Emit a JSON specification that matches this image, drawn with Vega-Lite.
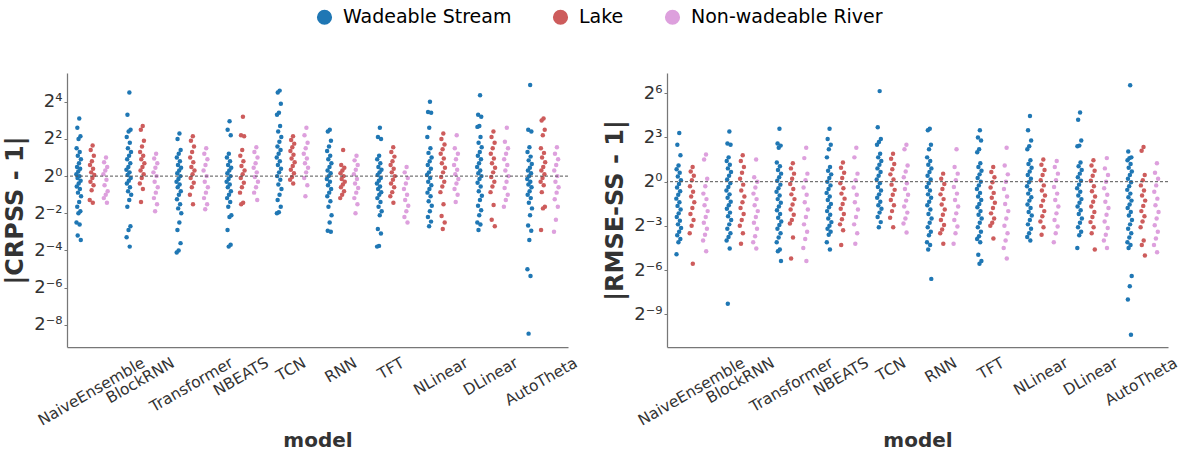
{
"$schema": "https://vega.github.io/schema/vega-lite/v6.json",
"background": "white",
"padding": {"left": 3, "top": 7, "right": 4, "bottom": 4},
"datasets": {
"crpss": [
{"m":"NaiveEnsemble","t":"W","v":8.57},{"m":"NaiveEnsemble","t":"W","v":6.06},{"m":"NaiveEnsemble","t":"W","v":4.44},{"m":"NaiveEnsemble","t":"W","v":4},{"m":"NaiveEnsemble","t":"W","v":2.83},{"m":"NaiveEnsemble","t":"W","v":2.46},{"m":"NaiveEnsemble","t":"W","v":2.14},{"m":"NaiveEnsemble","t":"W","v":1.87},{"m":"NaiveEnsemble","t":"W","v":1.62},{"m":"NaiveEnsemble","t":"W","v":1.41},{"m":"NaiveEnsemble","t":"W","v":1.32},{"m":"NaiveEnsemble","t":"W","v":1.19},{"m":"NaiveEnsemble","t":"W","v":1.07},{"m":"NaiveEnsemble","t":"W","v":1},{"m":"NaiveEnsemble","t":"W","v":0.93},{"m":"NaiveEnsemble","t":"W","v":0.84},{"m":"NaiveEnsemble","t":"W","v":0.76},{"m":"NaiveEnsemble","t":"W","v":0.68},{"m":"NaiveEnsemble","t":"W","v":0.62},{"m":"NaiveEnsemble","t":"W","v":0.54},{"m":"NaiveEnsemble","t":"W","v":0.47},{"m":"NaiveEnsemble","t":"W","v":0.38},{"m":"NaiveEnsemble","t":"W","v":0.32},{"m":"NaiveEnsemble","t":"W","v":0.27},{"m":"NaiveEnsemble","t":"W","v":0.25},{"m":"NaiveEnsemble","t":"W","v":0.177},{"m":"NaiveEnsemble","t":"W","v":0.165},{"m":"NaiveEnsemble","t":"W","v":0.109},{"m":"NaiveEnsemble","t":"W","v":0.092},
{"m":"NaiveEnsemble","t":"L","v":3.14},{"m":"NaiveEnsemble","t":"L","v":2.64},{"m":"NaiveEnsemble","t":"L","v":2.14},{"m":"NaiveEnsemble","t":"L","v":1.74},{"m":"NaiveEnsemble","t":"L","v":1.52},{"m":"NaiveEnsemble","t":"L","v":1.32},{"m":"NaiveEnsemble","t":"L","v":1.15},{"m":"NaiveEnsemble","t":"L","v":1.04},{"m":"NaiveEnsemble","t":"L","v":0.93},{"m":"NaiveEnsemble","t":"L","v":0.81},{"m":"NaiveEnsemble","t":"L","v":0.71},{"m":"NaiveEnsemble","t":"L","v":0.59},{"m":"NaiveEnsemble","t":"L","v":0.41},{"m":"NaiveEnsemble","t":"L","v":0.37},
{"m":"NaiveEnsemble","t":"R","v":2},{"m":"NaiveEnsemble","t":"R","v":1.68},{"m":"NaiveEnsemble","t":"R","v":1.41},{"m":"NaiveEnsemble","t":"R","v":1.23},{"m":"NaiveEnsemble","t":"R","v":1.07},{"m":"NaiveEnsemble","t":"R","v":0.87},{"m":"NaiveEnsemble","t":"R","v":0.71},{"m":"NaiveEnsemble","t":"R","v":0.57},{"m":"NaiveEnsemble","t":"R","v":0.5},{"m":"NaiveEnsemble","t":"R","v":0.44},{"m":"NaiveEnsemble","t":"R","v":0.37},
{"m":"BlockRNN","t":"W","v":22.6},{"m":"BlockRNN","t":"W","v":9.85},{"m":"BlockRNN","t":"W","v":5.66},{"m":"BlockRNN","t":"W","v":5.28},{"m":"BlockRNN","t":"W","v":4.29},{"m":"BlockRNN","t":"W","v":3.48},{"m":"BlockRNN","t":"W","v":2.83},{"m":"BlockRNN","t":"W","v":2.46},{"m":"BlockRNN","t":"W","v":2.14},{"m":"BlockRNN","t":"W","v":1.87},{"m":"BlockRNN","t":"W","v":1.62},{"m":"BlockRNN","t":"W","v":1.41},{"m":"BlockRNN","t":"W","v":1.27},{"m":"BlockRNN","t":"W","v":1.15},{"m":"BlockRNN","t":"W","v":1.04},{"m":"BlockRNN","t":"W","v":0.93},{"m":"BlockRNN","t":"W","v":0.84},{"m":"BlockRNN","t":"W","v":0.76},{"m":"BlockRNN","t":"W","v":0.66},{"m":"BlockRNN","t":"W","v":0.57},{"m":"BlockRNN","t":"W","v":0.5},{"m":"BlockRNN","t":"W","v":0.41},{"m":"BlockRNN","t":"W","v":0.32},{"m":"BlockRNN","t":"W","v":0.154},{"m":"BlockRNN","t":"W","v":0.134},{"m":"BlockRNN","t":"W","v":0.102},{"m":"BlockRNN","t":"W","v":0.072},
{"m":"BlockRNN","t":"L","v":6.5},{"m":"BlockRNN","t":"L","v":5.66},{"m":"BlockRNN","t":"L","v":3.73},{"m":"BlockRNN","t":"L","v":3.03},{"m":"BlockRNN","t":"L","v":2.46},{"m":"BlockRNN","t":"L","v":2.14},{"m":"BlockRNN","t":"L","v":1.87},{"m":"BlockRNN","t":"L","v":1.62},{"m":"BlockRNN","t":"L","v":1.41},{"m":"BlockRNN","t":"L","v":1.23},{"m":"BlockRNN","t":"L","v":1.07},{"m":"BlockRNN","t":"L","v":0.93},{"m":"BlockRNN","t":"L","v":0.76},{"m":"BlockRNN","t":"L","v":0.62},{"m":"BlockRNN","t":"L","v":0.38},
{"m":"BlockRNN","t":"R","v":2.3},{"m":"BlockRNN","t":"R","v":1.93},{"m":"BlockRNN","t":"R","v":1.62},{"m":"BlockRNN","t":"R","v":1.37},{"m":"BlockRNN","t":"R","v":1.15},{"m":"BlockRNN","t":"R","v":1},{"m":"BlockRNN","t":"R","v":0.81},{"m":"BlockRNN","t":"R","v":0.66},{"m":"BlockRNN","t":"R","v":0.54},{"m":"BlockRNN","t":"R","v":0.44},{"m":"BlockRNN","t":"R","v":0.35},{"m":"BlockRNN","t":"R","v":0.27},
{"m":"Transformer","t":"W","v":4.92},{"m":"Transformer","t":"W","v":4},{"m":"Transformer","t":"W","v":2.64},{"m":"Transformer","t":"W","v":2.3},{"m":"Transformer","t":"W","v":2},{"m":"Transformer","t":"W","v":1.74},{"m":"Transformer","t":"W","v":1.52},{"m":"Transformer","t":"W","v":1.37},{"m":"Transformer","t":"W","v":1.23},{"m":"Transformer","t":"W","v":1.11},{"m":"Transformer","t":"W","v":1},{"m":"Transformer","t":"W","v":0.9},{"m":"Transformer","t":"W","v":0.81},{"m":"Transformer","t":"W","v":0.73},{"m":"Transformer","t":"W","v":0.66},{"m":"Transformer","t":"W","v":0.57},{"m":"Transformer","t":"W","v":0.5},{"m":"Transformer","t":"W","v":0.42},{"m":"Transformer","t":"W","v":0.35},{"m":"Transformer","t":"W","v":0.3},{"m":"Transformer","t":"W","v":0.25},{"m":"Transformer","t":"W","v":0.177},{"m":"Transformer","t":"W","v":0.134},{"m":"Transformer","t":"W","v":0.082},{"m":"Transformer","t":"W","v":0.0625},{"m":"Transformer","t":"W","v":0.058},
{"m":"Transformer","t":"L","v":4.44},{"m":"Transformer","t":"L","v":3.73},{"m":"Transformer","t":"L","v":3.03},{"m":"Transformer","t":"L","v":2.46},{"m":"Transformer","t":"L","v":2},{"m":"Transformer","t":"L","v":1.68},{"m":"Transformer","t":"L","v":1.41},{"m":"Transformer","t":"L","v":1.23},{"m":"Transformer","t":"L","v":1.07},{"m":"Transformer","t":"L","v":0.93},{"m":"Transformer","t":"L","v":0.78},{"m":"Transformer","t":"L","v":0.66},{"m":"Transformer","t":"L","v":0.5},{"m":"Transformer","t":"L","v":0.35},
{"m":"Transformer","t":"R","v":2.83},{"m":"Transformer","t":"R","v":2.3},{"m":"Transformer","t":"R","v":1.87},{"m":"Transformer","t":"R","v":1.52},{"m":"Transformer","t":"R","v":1.23},{"m":"Transformer","t":"R","v":1},{"m":"Transformer","t":"R","v":0.81},{"m":"Transformer","t":"R","v":0.66},{"m":"Transformer","t":"R","v":0.54},{"m":"Transformer","t":"R","v":0.44},{"m":"Transformer","t":"R","v":0.35},{"m":"Transformer","t":"R","v":0.29},
{"m":"NBEATS","t":"W","v":7.73},{"m":"NBEATS","t":"W","v":5.66},{"m":"NBEATS","t":"W","v":4.59},{"m":"NBEATS","t":"W","v":2.3},{"m":"NBEATS","t":"W","v":2},{"m":"NBEATS","t":"W","v":1.74},{"m":"NBEATS","t":"W","v":1.52},{"m":"NBEATS","t":"W","v":1.37},{"m":"NBEATS","t":"W","v":1.23},{"m":"NBEATS","t":"W","v":1.11},{"m":"NBEATS","t":"W","v":1},{"m":"NBEATS","t":"W","v":0.9},{"m":"NBEATS","t":"W","v":0.81},{"m":"NBEATS","t":"W","v":0.73},{"m":"NBEATS","t":"W","v":0.66},{"m":"NBEATS","t":"W","v":0.57},{"m":"NBEATS","t":"W","v":0.5},{"m":"NBEATS","t":"W","v":0.44},{"m":"NBEATS","t":"W","v":0.38},{"m":"NBEATS","t":"W","v":0.32},{"m":"NBEATS","t":"W","v":0.233},{"m":"NBEATS","t":"W","v":0.218},{"m":"NBEATS","t":"W","v":0.134},{"m":"NBEATS","t":"W","v":0.077},{"m":"NBEATS","t":"W","v":0.072},
{"m":"NBEATS","t":"L","v":9.19},{"m":"NBEATS","t":"L","v":4.59},{"m":"NBEATS","t":"L","v":4.44},{"m":"NBEATS","t":"L","v":2.64},{"m":"NBEATS","t":"L","v":2.14},{"m":"NBEATS","t":"L","v":1.74},{"m":"NBEATS","t":"L","v":1.46},{"m":"NBEATS","t":"L","v":1.23},{"m":"NBEATS","t":"L","v":1.07},{"m":"NBEATS","t":"L","v":0.93},{"m":"NBEATS","t":"L","v":0.78},{"m":"NBEATS","t":"L","v":0.66},{"m":"NBEATS","t":"L","v":0.54},{"m":"NBEATS","t":"L","v":0.37},{"m":"NBEATS","t":"L","v":0.35},
{"m":"NBEATS","t":"R","v":2.93},{"m":"NBEATS","t":"R","v":2.46},{"m":"NBEATS","t":"R","v":2},{"m":"NBEATS","t":"R","v":1.62},{"m":"NBEATS","t":"R","v":1.37},{"m":"NBEATS","t":"R","v":1.15},{"m":"NBEATS","t":"R","v":0.97},{"m":"NBEATS","t":"R","v":0.81},{"m":"NBEATS","t":"R","v":0.66},{"m":"NBEATS","t":"R","v":0.54},{"m":"NBEATS","t":"R","v":0.41},
{"m":"TCN","t":"W","v":24.3},{"m":"TCN","t":"W","v":22.6},{"m":"TCN","t":"W","v":14.9},{"m":"TCN","t":"W","v":10.6},{"m":"TCN","t":"W","v":9.85},{"m":"TCN","t":"W","v":6.5},{"m":"TCN","t":"W","v":5.28},{"m":"TCN","t":"W","v":4.29},{"m":"TCN","t":"W","v":3.6},{"m":"TCN","t":"W","v":3.03},{"m":"TCN","t":"W","v":2.64},{"m":"TCN","t":"W","v":2.3},{"m":"TCN","t":"W","v":2},{"m":"TCN","t":"W","v":1.74},{"m":"TCN","t":"W","v":1.52},{"m":"TCN","t":"W","v":1.32},{"m":"TCN","t":"W","v":1.15},{"m":"TCN","t":"W","v":1},{"m":"TCN","t":"W","v":0.87},{"m":"TCN","t":"W","v":0.73},{"m":"TCN","t":"W","v":0.62},{"m":"TCN","t":"W","v":0.5},{"m":"TCN","t":"W","v":0.41},{"m":"TCN","t":"W","v":0.32},{"m":"TCN","t":"W","v":0.26},{"m":"TCN","t":"W","v":0.25},
{"m":"TCN","t":"L","v":4.44},{"m":"TCN","t":"L","v":3.86},{"m":"TCN","t":"L","v":3.36},{"m":"TCN","t":"L","v":2.93},{"m":"TCN","t":"L","v":2.55},{"m":"TCN","t":"L","v":2.22},{"m":"TCN","t":"L","v":1.93},{"m":"TCN","t":"L","v":1.68},{"m":"TCN","t":"L","v":1.46},{"m":"TCN","t":"L","v":1.27},{"m":"TCN","t":"L","v":1.11},{"m":"TCN","t":"L","v":0.97},{"m":"TCN","t":"L","v":0.87},{"m":"TCN","t":"L","v":0.76},
{"m":"TCN","t":"R","v":6.06},{"m":"TCN","t":"R","v":4.59},{"m":"TCN","t":"R","v":3.48},{"m":"TCN","t":"R","v":2.83},{"m":"TCN","t":"R","v":2.3},{"m":"TCN","t":"R","v":1.93},{"m":"TCN","t":"R","v":1.62},{"m":"TCN","t":"R","v":1.37},{"m":"TCN","t":"R","v":1.15},{"m":"TCN","t":"R","v":0.93},{"m":"TCN","t":"R","v":0.71},{"m":"TCN","t":"R","v":0.47},
{"m":"RNN","t":"W","v":5.66},{"m":"RNN","t":"W","v":5.28},{"m":"RNN","t":"W","v":3.73},{"m":"RNN","t":"W","v":3.03},{"m":"RNN","t":"W","v":2.55},{"m":"RNN","t":"W","v":2.14},{"m":"RNN","t":"W","v":1.87},{"m":"RNN","t":"W","v":1.62},{"m":"RNN","t":"W","v":1.41},{"m":"RNN","t":"W","v":1.23},{"m":"RNN","t":"W","v":1.11},{"m":"RNN","t":"W","v":1},{"m":"RNN","t":"W","v":0.9},{"m":"RNN","t":"W","v":0.81},{"m":"RNN","t":"W","v":0.71},{"m":"RNN","t":"W","v":0.62},{"m":"RNN","t":"W","v":0.54},{"m":"RNN","t":"W","v":0.47},{"m":"RNN","t":"W","v":0.39},{"m":"RNN","t":"W","v":0.32},{"m":"RNN","t":"W","v":0.233},{"m":"RNN","t":"W","v":0.177},{"m":"RNN","t":"W","v":0.13},{"m":"RNN","t":"W","v":0.125},
{"m":"RNN","t":"L","v":2.64},{"m":"RNN","t":"L","v":1.52},{"m":"RNN","t":"L","v":1.37},{"m":"RNN","t":"L","v":1.23},{"m":"RNN","t":"L","v":1.11},{"m":"RNN","t":"L","v":1},{"m":"RNN","t":"L","v":0.9},{"m":"RNN","t":"L","v":0.81},{"m":"RNN","t":"L","v":0.73},{"m":"RNN","t":"L","v":0.66},{"m":"RNN","t":"L","v":0.57},{"m":"RNN","t":"L","v":0.5},{"m":"RNN","t":"L","v":0.44},
{"m":"RNN","t":"R","v":2.14},{"m":"RNN","t":"R","v":1.8},{"m":"RNN","t":"R","v":1.52},{"m":"RNN","t":"R","v":1.27},{"m":"RNN","t":"R","v":1.07},{"m":"RNN","t":"R","v":0.9},{"m":"RNN","t":"R","v":0.76},{"m":"RNN","t":"R","v":0.64},{"m":"RNN","t":"R","v":0.54},{"m":"RNN","t":"R","v":0.44},{"m":"RNN","t":"R","v":0.35},{"m":"RNN","t":"R","v":0.25},
{"m":"TFT","t":"W","v":6.06},{"m":"TFT","t":"W","v":4.29},{"m":"TFT","t":"W","v":4},{"m":"TFT","t":"W","v":2.14},{"m":"TFT","t":"W","v":1.87},{"m":"TFT","t":"W","v":1.62},{"m":"TFT","t":"W","v":1.41},{"m":"TFT","t":"W","v":1.27},{"m":"TFT","t":"W","v":1.15},{"m":"TFT","t":"W","v":1.04},{"m":"TFT","t":"W","v":0.93},{"m":"TFT","t":"W","v":0.84},{"m":"TFT","t":"W","v":0.76},{"m":"TFT","t":"W","v":0.68},{"m":"TFT","t":"W","v":0.62},{"m":"TFT","t":"W","v":0.55},{"m":"TFT","t":"W","v":0.5},{"m":"TFT","t":"W","v":0.44},{"m":"TFT","t":"W","v":0.38},{"m":"TFT","t":"W","v":0.32},{"m":"TFT","t":"W","v":0.27},{"m":"TFT","t":"W","v":0.233},{"m":"TFT","t":"W","v":0.139},{"m":"TFT","t":"W","v":0.117},{"m":"TFT","t":"W","v":0.074},{"m":"TFT","t":"W","v":0.072},
{"m":"TFT","t":"L","v":2.93},{"m":"TFT","t":"L","v":2.46},{"m":"TFT","t":"L","v":2.07},{"m":"TFT","t":"L","v":1.74},{"m":"TFT","t":"L","v":1.52},{"m":"TFT","t":"L","v":1.32},{"m":"TFT","t":"L","v":1.15},{"m":"TFT","t":"L","v":1},{"m":"TFT","t":"L","v":0.87},{"m":"TFT","t":"L","v":0.76},{"m":"TFT","t":"L","v":0.66},{"m":"TFT","t":"L","v":0.55},{"m":"TFT","t":"L","v":0.47},{"m":"TFT","t":"L","v":0.37},
{"m":"TFT","t":"R","v":1.41},{"m":"TFT","t":"R","v":1.15},{"m":"TFT","t":"R","v":0.93},{"m":"TFT","t":"R","v":0.76},{"m":"TFT","t":"R","v":0.62},{"m":"TFT","t":"R","v":0.5},{"m":"TFT","t":"R","v":0.41},{"m":"TFT","t":"R","v":0.33},{"m":"TFT","t":"R","v":0.27},{"m":"TFT","t":"R","v":0.218},{"m":"TFT","t":"R","v":0.177},
{"m":"NLinear","t":"W","v":16},{"m":"NLinear","t":"W","v":10.9},{"m":"NLinear","t":"W","v":10.6},{"m":"NLinear","t":"W","v":6.06},{"m":"NLinear","t":"W","v":4.29},{"m":"NLinear","t":"W","v":2.83},{"m":"NLinear","t":"W","v":2.38},{"m":"NLinear","t":"W","v":2},{"m":"NLinear","t":"W","v":1.74},{"m":"NLinear","t":"W","v":1.52},{"m":"NLinear","t":"W","v":1.32},{"m":"NLinear","t":"W","v":1.15},{"m":"NLinear","t":"W","v":1.04},{"m":"NLinear","t":"W","v":0.93},{"m":"NLinear","t":"W","v":0.81},{"m":"NLinear","t":"W","v":0.71},{"m":"NLinear","t":"W","v":0.62},{"m":"NLinear","t":"W","v":0.54},{"m":"NLinear","t":"W","v":0.47},{"m":"NLinear","t":"W","v":0.39},{"m":"NLinear","t":"W","v":0.33},{"m":"NLinear","t":"W","v":0.27},{"m":"NLinear","t":"W","v":0.218},{"m":"NLinear","t":"W","v":0.183},{"m":"NLinear","t":"W","v":0.154},
{"m":"NLinear","t":"L","v":4.92},{"m":"NLinear","t":"L","v":4},{"m":"NLinear","t":"L","v":3.25},{"m":"NLinear","t":"L","v":2.73},{"m":"NLinear","t":"L","v":2.3},{"m":"NLinear","t":"L","v":1.93},{"m":"NLinear","t":"L","v":1.62},{"m":"NLinear","t":"L","v":1.37},{"m":"NLinear","t":"L","v":1.15},{"m":"NLinear","t":"L","v":0.97},{"m":"NLinear","t":"L","v":0.81},{"m":"NLinear","t":"L","v":0.68},{"m":"NLinear","t":"L","v":0.55},{"m":"NLinear","t":"L","v":0.35},{"m":"NLinear","t":"L","v":0.225},{"m":"NLinear","t":"L","v":0.177},{"m":"NLinear","t":"L","v":0.139},
{"m":"NLinear","t":"R","v":4.59},{"m":"NLinear","t":"R","v":2.83},{"m":"NLinear","t":"R","v":2.3},{"m":"NLinear","t":"R","v":1.87},{"m":"NLinear","t":"R","v":1.52},{"m":"NLinear","t":"R","v":1.27},{"m":"NLinear","t":"R","v":1.07},{"m":"NLinear","t":"R","v":0.9},{"m":"NLinear","t":"R","v":0.76},{"m":"NLinear","t":"R","v":0.62},{"m":"NLinear","t":"R","v":0.5},{"m":"NLinear","t":"R","v":0.38},
{"m":"DLinear","t":"W","v":20.4},{"m":"DLinear","t":"W","v":9.85},{"m":"DLinear","t":"W","v":9.19},{"m":"DLinear","t":"W","v":6.5},{"m":"DLinear","t":"W","v":6.28},{"m":"DLinear","t":"W","v":4.29},{"m":"DLinear","t":"W","v":3.48},{"m":"DLinear","t":"W","v":2.93},{"m":"DLinear","t":"W","v":2.46},{"m":"DLinear","t":"W","v":2.14},{"m":"DLinear","t":"W","v":1.87},{"m":"DLinear","t":"W","v":1.62},{"m":"DLinear","t":"W","v":1.41},{"m":"DLinear","t":"W","v":1.23},{"m":"DLinear","t":"W","v":1.11},{"m":"DLinear","t":"W","v":1},{"m":"DLinear","t":"W","v":0.9},{"m":"DLinear","t":"W","v":0.78},{"m":"DLinear","t":"W","v":0.68},{"m":"DLinear","t":"W","v":0.57},{"m":"DLinear","t":"W","v":0.48},{"m":"DLinear","t":"W","v":0.41},{"m":"DLinear","t":"W","v":0.33},{"m":"DLinear","t":"W","v":0.28},{"m":"DLinear","t":"W","v":0.233},{"m":"DLinear","t":"W","v":0.177},{"m":"DLinear","t":"W","v":0.165},{"m":"DLinear","t":"W","v":0.134},
{"m":"DLinear","t":"L","v":5.28},{"m":"DLinear","t":"L","v":4.29},{"m":"DLinear","t":"L","v":3.48},{"m":"DLinear","t":"L","v":2.83},{"m":"DLinear","t":"L","v":2.3},{"m":"DLinear","t":"L","v":1.93},{"m":"DLinear","t":"L","v":1.62},{"m":"DLinear","t":"L","v":1.37},{"m":"DLinear","t":"L","v":1.15},{"m":"DLinear","t":"L","v":0.97},{"m":"DLinear","t":"L","v":0.81},{"m":"DLinear","t":"L","v":0.68},{"m":"DLinear","t":"L","v":0.55},{"m":"DLinear","t":"L","v":0.34},{"m":"DLinear","t":"L","v":0.196},{"m":"DLinear","t":"L","v":0.154},
{"m":"DLinear","t":"R","v":6.06},{"m":"DLinear","t":"R","v":3.6},{"m":"DLinear","t":"R","v":2.83},{"m":"DLinear","t":"R","v":2.3},{"m":"DLinear","t":"R","v":1.87},{"m":"DLinear","t":"R","v":1.52},{"m":"DLinear","t":"R","v":1.23},{"m":"DLinear","t":"R","v":1},{"m":"DLinear","t":"R","v":0.81},{"m":"DLinear","t":"R","v":0.64},{"m":"DLinear","t":"R","v":0.5},{"m":"DLinear","t":"R","v":0.41},{"m":"DLinear","t":"R","v":0.32},
{"m":"AutoTheta","t":"W","v":29.9},{"m":"AutoTheta","t":"W","v":5.66},{"m":"AutoTheta","t":"W","v":5.28},{"m":"AutoTheta","t":"W","v":2.93},{"m":"AutoTheta","t":"W","v":2.46},{"m":"AutoTheta","t":"W","v":2.07},{"m":"AutoTheta","t":"W","v":1.8},{"m":"AutoTheta","t":"W","v":1.57},{"m":"AutoTheta","t":"W","v":1.37},{"m":"AutoTheta","t":"W","v":1.23},{"m":"AutoTheta","t":"W","v":1.11},{"m":"AutoTheta","t":"W","v":1},{"m":"AutoTheta","t":"W","v":0.9},{"m":"AutoTheta","t":"W","v":0.81},{"m":"AutoTheta","t":"W","v":0.73},{"m":"AutoTheta","t":"W","v":0.66},{"m":"AutoTheta","t":"W","v":0.57},{"m":"AutoTheta","t":"W","v":0.5},{"m":"AutoTheta","t":"W","v":0.44},{"m":"AutoTheta","t":"W","v":0.37},{"m":"AutoTheta","t":"W","v":0.3},{"m":"AutoTheta","t":"W","v":0.233},{"m":"AutoTheta","t":"W","v":0.159},{"m":"AutoTheta","t":"W","v":0.13},{"m":"AutoTheta","t":"W","v":0.092},{"m":"AutoTheta","t":"W","v":0.031},{"m":"AutoTheta","t":"W","v":0.024},{"m":"AutoTheta","t":"W","v":0.0028},
{"m":"AutoTheta","t":"L","v":8.57},{"m":"AutoTheta","t":"L","v":8},{"m":"AutoTheta","t":"L","v":5.66},{"m":"AutoTheta","t":"L","v":4.59},{"m":"AutoTheta","t":"L","v":2.83},{"m":"AutoTheta","t":"L","v":2.38},{"m":"AutoTheta","t":"L","v":2},{"m":"AutoTheta","t":"L","v":1.68},{"m":"AutoTheta","t":"L","v":1.41},{"m":"AutoTheta","t":"L","v":1.23},{"m":"AutoTheta","t":"L","v":1.07},{"m":"AutoTheta","t":"L","v":0.93},{"m":"AutoTheta","t":"L","v":0.81},{"m":"AutoTheta","t":"L","v":0.71},{"m":"AutoTheta","t":"L","v":0.55},{"m":"AutoTheta","t":"L","v":0.32},{"m":"AutoTheta","t":"L","v":0.3},{"m":"AutoTheta","t":"L","v":0.134},
{"m":"AutoTheta","t":"R","v":2.93},{"m":"AutoTheta","t":"R","v":2.3},{"m":"AutoTheta","t":"R","v":1.87},{"m":"AutoTheta","t":"R","v":1.52},{"m":"AutoTheta","t":"R","v":1.23},{"m":"AutoTheta","t":"R","v":1},{"m":"AutoTheta","t":"R","v":0.81},{"m":"AutoTheta","t":"R","v":0.66},{"m":"AutoTheta","t":"R","v":0.54},{"m":"AutoTheta","t":"R","v":0.42},{"m":"AutoTheta","t":"R","v":0.32},{"m":"AutoTheta","t":"R","v":0.196},{"m":"AutoTheta","t":"R","v":0.125}
],
"rmse": [
{"m":"NaiveEnsemble","t":"W","v":9.85},{"m":"NaiveEnsemble","t":"W","v":5.66},{"m":"NaiveEnsemble","t":"W","v":3.48},{"m":"NaiveEnsemble","t":"W","v":2.14},{"m":"NaiveEnsemble","t":"W","v":1.8},{"m":"NaiveEnsemble","t":"W","v":1.52},{"m":"NaiveEnsemble","t":"W","v":1.27},{"m":"NaiveEnsemble","t":"W","v":1.07},{"m":"NaiveEnsemble","t":"W","v":0.9},{"m":"NaiveEnsemble","t":"W","v":0.76},{"m":"NaiveEnsemble","t":"W","v":0.64},{"m":"NaiveEnsemble","t":"W","v":0.54},{"m":"NaiveEnsemble","t":"W","v":0.45},{"m":"NaiveEnsemble","t":"W","v":0.38},{"m":"NaiveEnsemble","t":"W","v":0.32},{"m":"NaiveEnsemble","t":"W","v":0.27},{"m":"NaiveEnsemble","t":"W","v":0.225},{"m":"NaiveEnsemble","t":"W","v":0.189},{"m":"NaiveEnsemble","t":"W","v":0.159},{"m":"NaiveEnsemble","t":"W","v":0.134},{"m":"NaiveEnsemble","t":"W","v":0.113},{"m":"NaiveEnsemble","t":"W","v":0.095},{"m":"NaiveEnsemble","t":"W","v":0.08},{"m":"NaiveEnsemble","t":"W","v":0.067},{"m":"NaiveEnsemble","t":"W","v":0.058},{"m":"NaiveEnsemble","t":"W","v":0.033},
{"m":"NaiveEnsemble","t":"L","v":2},{"m":"NaiveEnsemble","t":"L","v":1.62},{"m":"NaiveEnsemble","t":"L","v":1.32},{"m":"NaiveEnsemble","t":"L","v":1.07},{"m":"NaiveEnsemble","t":"L","v":0.81},{"m":"NaiveEnsemble","t":"L","v":0.62},{"m":"NaiveEnsemble","t":"L","v":0.5},{"m":"NaiveEnsemble","t":"L","v":0.38},{"m":"NaiveEnsemble","t":"L","v":0.29},{"m":"NaiveEnsemble","t":"L","v":0.218},{"m":"NaiveEnsemble","t":"L","v":0.165},{"m":"NaiveEnsemble","t":"L","v":0.125},{"m":"NaiveEnsemble","t":"L","v":0.088},{"m":"NaiveEnsemble","t":"L","v":0.021},
{"m":"NaiveEnsemble","t":"R","v":3.6},{"m":"NaiveEnsemble","t":"R","v":2.83},{"m":"NaiveEnsemble","t":"R","v":1.15},{"m":"NaiveEnsemble","t":"R","v":0.81},{"m":"NaiveEnsemble","t":"R","v":0.57},{"m":"NaiveEnsemble","t":"R","v":0.44},{"m":"NaiveEnsemble","t":"R","v":0.33},{"m":"NaiveEnsemble","t":"R","v":0.25},{"m":"NaiveEnsemble","t":"R","v":0.189},{"m":"NaiveEnsemble","t":"R","v":0.144},{"m":"NaiveEnsemble","t":"R","v":0.109},{"m":"NaiveEnsemble","t":"R","v":0.082},{"m":"NaiveEnsemble","t":"R","v":0.0625},{"m":"NaiveEnsemble","t":"R","v":0.038},
{"m":"BlockRNN","t":"W","v":10.6},{"m":"BlockRNN","t":"W","v":6.06},{"m":"BlockRNN","t":"W","v":5.66},{"m":"BlockRNN","t":"W","v":3.14},{"m":"BlockRNN","t":"W","v":2.64},{"m":"BlockRNN","t":"W","v":2.22},{"m":"BlockRNN","t":"W","v":1.87},{"m":"BlockRNN","t":"W","v":1.57},{"m":"BlockRNN","t":"W","v":1.32},{"m":"BlockRNN","t":"W","v":1.11},{"m":"BlockRNN","t":"W","v":0.93},{"m":"BlockRNN","t":"W","v":0.78},{"m":"BlockRNN","t":"W","v":0.66},{"m":"BlockRNN","t":"W","v":0.55},{"m":"BlockRNN","t":"W","v":0.47},{"m":"BlockRNN","t":"W","v":0.39},{"m":"BlockRNN","t":"W","v":0.33},{"m":"BlockRNN","t":"W","v":0.28},{"m":"BlockRNN","t":"W","v":0.233},{"m":"BlockRNN","t":"W","v":0.196},{"m":"BlockRNN","t":"W","v":0.165},{"m":"BlockRNN","t":"W","v":0.134},{"m":"BlockRNN","t":"W","v":0.109},{"m":"BlockRNN","t":"W","v":0.088},{"m":"BlockRNN","t":"W","v":0.074},{"m":"BlockRNN","t":"W","v":0.0625},{"m":"BlockRNN","t":"W","v":0.043},{"m":"BlockRNN","t":"W","v":0.0032},
{"m":"BlockRNN","t":"L","v":3.48},{"m":"BlockRNN","t":"L","v":2.64},{"m":"BlockRNN","t":"L","v":2},{"m":"BlockRNN","t":"L","v":1.52},{"m":"BlockRNN","t":"L","v":1.15},{"m":"BlockRNN","t":"L","v":0.87},{"m":"BlockRNN","t":"L","v":0.66},{"m":"BlockRNN","t":"L","v":0.5},{"m":"BlockRNN","t":"L","v":0.38},{"m":"BlockRNN","t":"L","v":0.29},{"m":"BlockRNN","t":"L","v":0.218},{"m":"BlockRNN","t":"L","v":0.165},{"m":"BlockRNN","t":"L","v":0.125},{"m":"BlockRNN","t":"L","v":0.088},{"m":"BlockRNN","t":"L","v":0.054},
{"m":"BlockRNN","t":"R","v":2.83},{"m":"BlockRNN","t":"R","v":1.23},{"m":"BlockRNN","t":"R","v":1},{"m":"BlockRNN","t":"R","v":0.76},{"m":"BlockRNN","t":"R","v":0.57},{"m":"BlockRNN","t":"R","v":0.44},{"m":"BlockRNN","t":"R","v":0.33},{"m":"BlockRNN","t":"R","v":0.25},{"m":"BlockRNN","t":"R","v":0.189},{"m":"BlockRNN","t":"R","v":0.144},{"m":"BlockRNN","t":"R","v":0.109},{"m":"BlockRNN","t":"R","v":0.077},{"m":"BlockRNN","t":"R","v":0.058},{"m":"BlockRNN","t":"R","v":0.043},
{"m":"Transformer","t":"W","v":12.1},{"m":"Transformer","t":"W","v":6.06},{"m":"Transformer","t":"W","v":5.46},{"m":"Transformer","t":"W","v":4.92},{"m":"Transformer","t":"W","v":2.46},{"m":"Transformer","t":"W","v":2.07},{"m":"Transformer","t":"W","v":1.74},{"m":"Transformer","t":"W","v":1.46},{"m":"Transformer","t":"W","v":1.23},{"m":"Transformer","t":"W","v":1.04},{"m":"Transformer","t":"W","v":0.87},{"m":"Transformer","t":"W","v":0.73},{"m":"Transformer","t":"W","v":0.62},{"m":"Transformer","t":"W","v":0.52},{"m":"Transformer","t":"W","v":0.44},{"m":"Transformer","t":"W","v":0.37},{"m":"Transformer","t":"W","v":0.31},{"m":"Transformer","t":"W","v":0.26},{"m":"Transformer","t":"W","v":0.218},{"m":"Transformer","t":"W","v":0.183},{"m":"Transformer","t":"W","v":0.154},{"m":"Transformer","t":"W","v":0.13},{"m":"Transformer","t":"W","v":0.109},{"m":"Transformer","t":"W","v":0.088},{"m":"Transformer","t":"W","v":0.072},{"m":"Transformer","t":"W","v":0.058},{"m":"Transformer","t":"W","v":0.041},{"m":"Transformer","t":"W","v":0.038},{"m":"Transformer","t":"W","v":0.024},
{"m":"Transformer","t":"L","v":2.38},{"m":"Transformer","t":"L","v":1.87},{"m":"Transformer","t":"L","v":1.46},{"m":"Transformer","t":"L","v":1.15},{"m":"Transformer","t":"L","v":0.9},{"m":"Transformer","t":"L","v":0.71},{"m":"Transformer","t":"L","v":0.55},{"m":"Transformer","t":"L","v":0.44},{"m":"Transformer","t":"L","v":0.34},{"m":"Transformer","t":"L","v":0.27},{"m":"Transformer","t":"L","v":0.21},{"m":"Transformer","t":"L","v":0.165},{"m":"Transformer","t":"L","v":0.139},{"m":"Transformer","t":"L","v":0.072},{"m":"Transformer","t":"L","v":0.027},
{"m":"Transformer","t":"R","v":4.92},{"m":"Transformer","t":"R","v":3.03},{"m":"Transformer","t":"R","v":1.46},{"m":"Transformer","t":"R","v":1.07},{"m":"Transformer","t":"R","v":0.76},{"m":"Transformer","t":"R","v":0.54},{"m":"Transformer","t":"R","v":0.38},{"m":"Transformer","t":"R","v":0.27},{"m":"Transformer","t":"R","v":0.189},{"m":"Transformer","t":"R","v":0.134},{"m":"Transformer","t":"R","v":0.095},{"m":"Transformer","t":"R","v":0.067},{"m":"Transformer","t":"R","v":0.044},{"m":"Transformer","t":"R","v":0.024},
{"m":"NBEATS","t":"W","v":12.1},{"m":"NBEATS","t":"W","v":7.46},{"m":"NBEATS","t":"W","v":5.66},{"m":"NBEATS","t":"W","v":4.59},{"m":"NBEATS","t":"W","v":3.14},{"m":"NBEATS","t":"W","v":2},{"m":"NBEATS","t":"W","v":1.68},{"m":"NBEATS","t":"W","v":1.41},{"m":"NBEATS","t":"W","v":1.19},{"m":"NBEATS","t":"W","v":1},{"m":"NBEATS","t":"W","v":0.84},{"m":"NBEATS","t":"W","v":0.71},{"m":"NBEATS","t":"W","v":0.59},{"m":"NBEATS","t":"W","v":0.5},{"m":"NBEATS","t":"W","v":0.42},{"m":"NBEATS","t":"W","v":0.35},{"m":"NBEATS","t":"W","v":0.3},{"m":"NBEATS","t":"W","v":0.25},{"m":"NBEATS","t":"W","v":0.21},{"m":"NBEATS","t":"W","v":0.177},{"m":"NBEATS","t":"W","v":0.149},{"m":"NBEATS","t":"W","v":0.125},{"m":"NBEATS","t":"W","v":0.109},{"m":"NBEATS","t":"W","v":0.095},{"m":"NBEATS","t":"W","v":0.082},{"m":"NBEATS","t":"W","v":0.058},{"m":"NBEATS","t":"W","v":0.041},
{"m":"NBEATS","t":"L","v":2.46},{"m":"NBEATS","t":"L","v":1.93},{"m":"NBEATS","t":"L","v":1.52},{"m":"NBEATS","t":"L","v":1.19},{"m":"NBEATS","t":"L","v":0.93},{"m":"NBEATS","t":"L","v":0.73},{"m":"NBEATS","t":"L","v":0.57},{"m":"NBEATS","t":"L","v":0.45},{"m":"NBEATS","t":"L","v":0.35},{"m":"NBEATS","t":"L","v":0.28},{"m":"NBEATS","t":"L","v":0.218},{"m":"NBEATS","t":"L","v":0.171},{"m":"NBEATS","t":"L","v":0.134},{"m":"NBEATS","t":"L","v":0.102},{"m":"NBEATS","t":"L","v":0.051},
{"m":"NBEATS","t":"R","v":4.92},{"m":"NBEATS","t":"R","v":3.14},{"m":"NBEATS","t":"R","v":1.46},{"m":"NBEATS","t":"R","v":1.07},{"m":"NBEATS","t":"R","v":0.76},{"m":"NBEATS","t":"R","v":0.54},{"m":"NBEATS","t":"R","v":0.38},{"m":"NBEATS","t":"R","v":0.27},{"m":"NBEATS","t":"R","v":0.189},{"m":"NBEATS","t":"R","v":0.134},{"m":"NBEATS","t":"R","v":0.088},{"m":"NBEATS","t":"R","v":0.054},
{"m":"TCN","t":"W","v":71},{"m":"TCN","t":"W","v":13},{"m":"TCN","t":"W","v":7.46},{"m":"TCN","t":"W","v":6.5},{"m":"TCN","t":"W","v":5.66},{"m":"TCN","t":"W","v":3.73},{"m":"TCN","t":"W","v":3.14},{"m":"TCN","t":"W","v":2.64},{"m":"TCN","t":"W","v":2.22},{"m":"TCN","t":"W","v":1.87},{"m":"TCN","t":"W","v":1.57},{"m":"TCN","t":"W","v":1.32},{"m":"TCN","t":"W","v":1.11},{"m":"TCN","t":"W","v":0.93},{"m":"TCN","t":"W","v":0.78},{"m":"TCN","t":"W","v":0.66},{"m":"TCN","t":"W","v":0.55},{"m":"TCN","t":"W","v":0.47},{"m":"TCN","t":"W","v":0.39},{"m":"TCN","t":"W","v":0.33},{"m":"TCN","t":"W","v":0.28},{"m":"TCN","t":"W","v":0.233},{"m":"TCN","t":"W","v":0.189},{"m":"TCN","t":"W","v":0.149},{"m":"TCN","t":"W","v":0.117},
{"m":"TCN","t":"L","v":3.73},{"m":"TCN","t":"L","v":2.93},{"m":"TCN","t":"L","v":2.3},{"m":"TCN","t":"L","v":1.8},{"m":"TCN","t":"L","v":1.41},{"m":"TCN","t":"L","v":1.11},{"m":"TCN","t":"L","v":0.87},{"m":"TCN","t":"L","v":0.68},{"m":"TCN","t":"L","v":0.54},{"m":"TCN","t":"L","v":0.42},{"m":"TCN","t":"L","v":0.33},{"m":"TCN","t":"L","v":0.25},{"m":"TCN","t":"L","v":0.183},{"m":"TCN","t":"L","v":0.117},
{"m":"TCN","t":"R","v":5.66},{"m":"TCN","t":"R","v":4.59},{"m":"TCN","t":"R","v":2.14},{"m":"TCN","t":"R","v":1.62},{"m":"TCN","t":"R","v":1.23},{"m":"TCN","t":"R","v":0.93},{"m":"TCN","t":"R","v":0.71},{"m":"TCN","t":"R","v":0.54},{"m":"TCN","t":"R","v":0.41},{"m":"TCN","t":"R","v":0.31},{"m":"TCN","t":"R","v":0.233},{"m":"TCN","t":"R","v":0.177},{"m":"TCN","t":"R","v":0.139},{"m":"TCN","t":"R","v":0.091},
{"m":"RNN","t":"W","v":12.1},{"m":"RNN","t":"W","v":11.3},{"m":"RNN","t":"W","v":5.66},{"m":"RNN","t":"W","v":4.59},{"m":"RNN","t":"W","v":3.14},{"m":"RNN","t":"W","v":2.64},{"m":"RNN","t":"W","v":2.22},{"m":"RNN","t":"W","v":1.87},{"m":"RNN","t":"W","v":1.57},{"m":"RNN","t":"W","v":1.32},{"m":"RNN","t":"W","v":1.11},{"m":"RNN","t":"W","v":0.93},{"m":"RNN","t":"W","v":0.78},{"m":"RNN","t":"W","v":0.66},{"m":"RNN","t":"W","v":0.55},{"m":"RNN","t":"W","v":0.47},{"m":"RNN","t":"W","v":0.39},{"m":"RNN","t":"W","v":0.33},{"m":"RNN","t":"W","v":0.27},{"m":"RNN","t":"W","v":0.218},{"m":"RNN","t":"W","v":0.177},{"m":"RNN","t":"W","v":0.144},{"m":"RNN","t":"W","v":0.117},{"m":"RNN","t":"W","v":0.095},{"m":"RNN","t":"W","v":0.08},{"m":"RNN","t":"W","v":0.058},{"m":"RNN","t":"W","v":0.051},{"m":"RNN","t":"W","v":0.041},{"m":"RNN","t":"W","v":0.0103},
{"m":"RNN","t":"L","v":1.46},{"m":"RNN","t":"L","v":1.15},{"m":"RNN","t":"L","v":0.9},{"m":"RNN","t":"L","v":0.71},{"m":"RNN","t":"L","v":0.55},{"m":"RNN","t":"L","v":0.44},{"m":"RNN","t":"L","v":0.34},{"m":"RNN","t":"L","v":0.27},{"m":"RNN","t":"L","v":0.21},{"m":"RNN","t":"L","v":0.165},{"m":"RNN","t":"L","v":0.13},{"m":"RNN","t":"L","v":0.105},{"m":"RNN","t":"L","v":0.088},{"m":"RNN","t":"L","v":0.054},
{"m":"RNN","t":"R","v":4.59},{"m":"RNN","t":"R","v":2},{"m":"RNN","t":"R","v":1.46},{"m":"RNN","t":"R","v":1.07},{"m":"RNN","t":"R","v":0.78},{"m":"RNN","t":"R","v":0.57},{"m":"RNN","t":"R","v":0.42},{"m":"RNN","t":"R","v":0.31},{"m":"RNN","t":"R","v":0.225},{"m":"RNN","t":"R","v":0.165},{"m":"RNN","t":"R","v":0.121},{"m":"RNN","t":"R","v":0.088},{"m":"RNN","t":"R","v":0.054},
{"m":"TFT","t":"W","v":11.3},{"m":"TFT","t":"W","v":8},{"m":"TFT","t":"W","v":6.96},{"m":"TFT","t":"W","v":4.59},{"m":"TFT","t":"W","v":4},{"m":"TFT","t":"W","v":2.38},{"m":"TFT","t":"W","v":2},{"m":"TFT","t":"W","v":1.68},{"m":"TFT","t":"W","v":1.41},{"m":"TFT","t":"W","v":1.19},{"m":"TFT","t":"W","v":1},{"m":"TFT","t":"W","v":0.84},{"m":"TFT","t":"W","v":0.71},{"m":"TFT","t":"W","v":0.59},{"m":"TFT","t":"W","v":0.5},{"m":"TFT","t":"W","v":0.42},{"m":"TFT","t":"W","v":0.35},{"m":"TFT","t":"W","v":0.3},{"m":"TFT","t":"W","v":0.25},{"m":"TFT","t":"W","v":0.21},{"m":"TFT","t":"W","v":0.177},{"m":"TFT","t":"W","v":0.144},{"m":"TFT","t":"W","v":0.117},{"m":"TFT","t":"W","v":0.095},{"m":"TFT","t":"W","v":0.077},{"m":"TFT","t":"W","v":0.067},{"m":"TFT","t":"W","v":0.058},{"m":"TFT","t":"W","v":0.032},{"m":"TFT","t":"W","v":0.024},{"m":"TFT","t":"W","v":0.021},
{"m":"TFT","t":"L","v":2},{"m":"TFT","t":"L","v":1.57},{"m":"TFT","t":"L","v":1.23},{"m":"TFT","t":"L","v":0.97},{"m":"TFT","t":"L","v":0.76},{"m":"TFT","t":"L","v":0.59},{"m":"TFT","t":"L","v":0.47},{"m":"TFT","t":"L","v":0.37},{"m":"TFT","t":"L","v":0.29},{"m":"TFT","t":"L","v":0.225},{"m":"TFT","t":"L","v":0.177},{"m":"TFT","t":"L","v":0.144},{"m":"TFT","t":"L","v":0.125},{"m":"TFT","t":"L","v":0.069},
{"m":"TFT","t":"R","v":4.92},{"m":"TFT","t":"R","v":2.14},{"m":"TFT","t":"R","v":1.41},{"m":"TFT","t":"R","v":1},{"m":"TFT","t":"R","v":0.71},{"m":"TFT","t":"R","v":0.5},{"m":"TFT","t":"R","v":0.35},{"m":"TFT","t":"R","v":0.25},{"m":"TFT","t":"R","v":0.177},{"m":"TFT","t":"R","v":0.125},{"m":"TFT","t":"R","v":0.088},{"m":"TFT","t":"R","v":0.0625},{"m":"TFT","t":"R","v":0.044},{"m":"TFT","t":"R","v":0.027},
{"m":"NLinear","t":"W","v":21.9},{"m":"NLinear","t":"W","v":11.3},{"m":"NLinear","t":"W","v":6.96},{"m":"NLinear","t":"W","v":5.28},{"m":"NLinear","t":"W","v":4.59},{"m":"NLinear","t":"W","v":2.73},{"m":"NLinear","t":"W","v":2.3},{"m":"NLinear","t":"W","v":1.93},{"m":"NLinear","t":"W","v":1.62},{"m":"NLinear","t":"W","v":1.37},{"m":"NLinear","t":"W","v":1.15},{"m":"NLinear","t":"W","v":0.97},{"m":"NLinear","t":"W","v":0.81},{"m":"NLinear","t":"W","v":0.68},{"m":"NLinear","t":"W","v":0.57},{"m":"NLinear","t":"W","v":0.48},{"m":"NLinear","t":"W","v":0.41},{"m":"NLinear","t":"W","v":0.34},{"m":"NLinear","t":"W","v":0.29},{"m":"NLinear","t":"W","v":0.24},{"m":"NLinear","t":"W","v":0.203},{"m":"NLinear","t":"W","v":0.165},{"m":"NLinear","t":"W","v":0.134},{"m":"NLinear","t":"W","v":0.109},{"m":"NLinear","t":"W","v":0.088},{"m":"NLinear","t":"W","v":0.074},{"m":"NLinear","t":"W","v":0.0625},
{"m":"NLinear","t":"L","v":2.83},{"m":"NLinear","t":"L","v":2.22},{"m":"NLinear","t":"L","v":1.74},{"m":"NLinear","t":"L","v":1.37},{"m":"NLinear","t":"L","v":1.07},{"m":"NLinear","t":"L","v":0.84},{"m":"NLinear","t":"L","v":0.66},{"m":"NLinear","t":"L","v":0.52},{"m":"NLinear","t":"L","v":0.41},{"m":"NLinear","t":"L","v":0.32},{"m":"NLinear","t":"L","v":0.25},{"m":"NLinear","t":"L","v":0.196},{"m":"NLinear","t":"L","v":0.154},{"m":"NLinear","t":"L","v":0.117},{"m":"NLinear","t":"L","v":0.082},
{"m":"NLinear","t":"R","v":2.64},{"m":"NLinear","t":"R","v":2},{"m":"NLinear","t":"R","v":1.46},{"m":"NLinear","t":"R","v":1.07},{"m":"NLinear","t":"R","v":0.78},{"m":"NLinear","t":"R","v":0.57},{"m":"NLinear","t":"R","v":0.42},{"m":"NLinear","t":"R","v":0.31},{"m":"NLinear","t":"R","v":0.225},{"m":"NLinear","t":"R","v":0.165},{"m":"NLinear","t":"R","v":0.121},{"m":"NLinear","t":"R","v":0.088},{"m":"NLinear","t":"R","v":0.058},
{"m":"DLinear","t":"W","v":26},{"m":"DLinear","t":"W","v":18.4},{"m":"DLinear","t":"W","v":6.96},{"m":"DLinear","t":"W","v":5.46},{"m":"DLinear","t":"W","v":5.28},{"m":"DLinear","t":"W","v":2.46},{"m":"DLinear","t":"W","v":2.07},{"m":"DLinear","t":"W","v":1.74},{"m":"DLinear","t":"W","v":1.46},{"m":"DLinear","t":"W","v":1.23},{"m":"DLinear","t":"W","v":1.04},{"m":"DLinear","t":"W","v":0.87},{"m":"DLinear","t":"W","v":0.73},{"m":"DLinear","t":"W","v":0.62},{"m":"DLinear","t":"W","v":0.52},{"m":"DLinear","t":"W","v":0.44},{"m":"DLinear","t":"W","v":0.37},{"m":"DLinear","t":"W","v":0.31},{"m":"DLinear","t":"W","v":0.26},{"m":"DLinear","t":"W","v":0.218},{"m":"DLinear","t":"W","v":0.177},{"m":"DLinear","t":"W","v":0.144},{"m":"DLinear","t":"W","v":0.117},{"m":"DLinear","t":"W","v":0.095},{"m":"DLinear","t":"W","v":0.08},{"m":"DLinear","t":"W","v":0.044},
{"m":"DLinear","t":"L","v":2.73},{"m":"DLinear","t":"L","v":2.14},{"m":"DLinear","t":"L","v":1.68},{"m":"DLinear","t":"L","v":1.32},{"m":"DLinear","t":"L","v":1.04},{"m":"DLinear","t":"L","v":0.81},{"m":"DLinear","t":"L","v":0.64},{"m":"DLinear","t":"L","v":0.5},{"m":"DLinear","t":"L","v":0.39},{"m":"DLinear","t":"L","v":0.31},{"m":"DLinear","t":"L","v":0.241},{"m":"DLinear","t":"L","v":0.189},{"m":"DLinear","t":"L","v":0.149},{"m":"DLinear","t":"L","v":0.117},{"m":"DLinear","t":"L","v":0.088},{"m":"DLinear","t":"L","v":0.041},
{"m":"DLinear","t":"R","v":3.03},{"m":"DLinear","t":"R","v":1.87},{"m":"DLinear","t":"R","v":1.37},{"m":"DLinear","t":"R","v":1},{"m":"DLinear","t":"R","v":0.73},{"m":"DLinear","t":"R","v":0.54},{"m":"DLinear","t":"R","v":0.39},{"m":"DLinear","t":"R","v":0.29},{"m":"DLinear","t":"R","v":0.21},{"m":"DLinear","t":"R","v":0.154},{"m":"DLinear","t":"R","v":0.113},{"m":"DLinear","t":"R","v":0.082},{"m":"DLinear","t":"R","v":0.0625},{"m":"DLinear","t":"R","v":0.044},
{"m":"AutoTheta","t":"W","v":94},{"m":"AutoTheta","t":"W","v":4.14},{"m":"AutoTheta","t":"W","v":3.14},{"m":"AutoTheta","t":"W","v":3.03},{"m":"AutoTheta","t":"W","v":2.73},{"m":"AutoTheta","t":"W","v":2.3},{"m":"AutoTheta","t":"W","v":1.93},{"m":"AutoTheta","t":"W","v":1.62},{"m":"AutoTheta","t":"W","v":1.37},{"m":"AutoTheta","t":"W","v":1.15},{"m":"AutoTheta","t":"W","v":0.97},{"m":"AutoTheta","t":"W","v":0.81},{"m":"AutoTheta","t":"W","v":0.68},{"m":"AutoTheta","t":"W","v":0.57},{"m":"AutoTheta","t":"W","v":0.48},{"m":"AutoTheta","t":"W","v":0.41},{"m":"AutoTheta","t":"W","v":0.34},{"m":"AutoTheta","t":"W","v":0.29},{"m":"AutoTheta","t":"W","v":0.24},{"m":"AutoTheta","t":"W","v":0.203},{"m":"AutoTheta","t":"W","v":0.165},{"m":"AutoTheta","t":"W","v":0.134},{"m":"AutoTheta","t":"W","v":0.109},{"m":"AutoTheta","t":"W","v":0.088},{"m":"AutoTheta","t":"W","v":0.072},{"m":"AutoTheta","t":"W","v":0.058},{"m":"AutoTheta","t":"W","v":0.051},{"m":"AutoTheta","t":"W","v":0.044},{"m":"AutoTheta","t":"W","v":0.0118},{"m":"AutoTheta","t":"W","v":0.0073},{"m":"AutoTheta","t":"W","v":0.0039},{"m":"AutoTheta","t":"W","v":0.00074},
{"m":"AutoTheta","t":"L","v":5.1},{"m":"AutoTheta","t":"L","v":4.29},{"m":"AutoTheta","t":"L","v":1.37},{"m":"AutoTheta","t":"L","v":1.07},{"m":"AutoTheta","t":"L","v":0.84},{"m":"AutoTheta","t":"L","v":0.66},{"m":"AutoTheta","t":"L","v":0.52},{"m":"AutoTheta","t":"L","v":0.41},{"m":"AutoTheta","t":"L","v":0.32},{"m":"AutoTheta","t":"L","v":0.25},{"m":"AutoTheta","t":"L","v":0.196},{"m":"AutoTheta","t":"L","v":0.154},{"m":"AutoTheta","t":"L","v":0.117},{"m":"AutoTheta","t":"L","v":0.0625},{"m":"AutoTheta","t":"L","v":0.051},{"m":"AutoTheta","t":"L","v":0.031},
{"m":"AutoTheta","t":"R","v":2.38},{"m":"AutoTheta","t":"R","v":1.52},{"m":"AutoTheta","t":"R","v":1.15},{"m":"AutoTheta","t":"R","v":0.84},{"m":"AutoTheta","t":"R","v":0.62},{"m":"AutoTheta","t":"R","v":0.45},{"m":"AutoTheta","t":"R","v":0.33},{"m":"AutoTheta","t":"R","v":0.241},{"m":"AutoTheta","t":"R","v":0.177},{"m":"AutoTheta","t":"R","v":0.129},{"m":"AutoTheta","t":"R","v":0.095},{"m":"AutoTheta","t":"R","v":0.069},{"m":"AutoTheta","t":"R","v":0.051},{"m":"AutoTheta","t":"R","v":0.036}
]
},
"hconcat": [
{
"width": 501, "height": 274,
"data": {"name": "crpss"},
"layer": [
{
"transform": [
{"window": [{"op": "row_number", "as": "rn"}], "groupby": ["m", "t"]},
{"calculate": "(datum.t==='W'?-0.267:datum.t==='L'?0:0.267)+(((datum.rn*0.6180339887)%1)-0.5)*0.1", "as": "off"}
],
"mark": {"type": "circle", "size": 20, "opacity": 1},
"encoding": {
"x": {"field": "m", "type": "nominal", "title": "model",
"scale": {"domain": ["NaiveEnsemble","BlockRNN","Transformer","NBEATS","TCN","RNN","TFT","NLinear","DLinear","AutoTheta"], "paddingInner": 0, "paddingOuter": 0},
"axis": {"labelOffset": {"condition": [
{"test": "datum.value==='NaiveEnsemble'", "value": 48},
{"test": "datum.value==='BlockRNN'", "value": 27.5},
{"test": "datum.value==='Transformer'", "value": 36},
{"test": "datum.value==='NBEATS'", "value": 21.5},
{"test": "datum.value==='TCN'", "value": 8.5},
{"test": "datum.value==='RNN'", "value": 9.5},
{"test": "datum.value==='TFT'", "value": 6.7},
{"test": "datum.value==='NLinear'", "value": 20.5},
{"test": "datum.value==='DLinear'", "value": 20.5}
], "value": 29.5}}},
"xOffset": {"field": "off", "type": "quantitative", "scale": {"domain": [-0.5, 0.5]}},
"y": {"field": "v", "type": "quantitative", "title": "|CRPSS - 1|",
"scale": {"type": "log", "base": 2, "domain": [0.0017, 46.9], "nice": false},
"axis": {"values": [16, 4, 1, 0.25, 0.0625, 0.015625, 0.00390625],
"labelExpr": "'2' + ['⁻⁸','⁻⁶','⁻⁴','⁻²','⁰','²','⁴'][(round(log(datum.value)/LN2)+8)/2]"}},
"color": {"field": "t", "type": "nominal",
"scale": {"domain": ["W", "L", "R"], "range": ["#1f77b4", "#cd5c5c", "#dda0dd"]},
"legend": {"labelExpr": "datum.label==='W'?'Wadeable Stream':datum.label==='L'?'Lake':'Non-wadeable River'"}}
}
},
{
"data": {"values": [{"ref": 1}]},
"mark": {"type": "rule", "strokeDash": [3, 2], "color": "#555", "strokeWidth": 1},
"encoding": {"y": {"field": "ref", "type": "quantitative", "title": "|CRPSS - 1|"}}
}
]
},
{
"width": 501, "height": 274,
"data": {"name": "rmse"},
"layer": [
{
"transform": [
{"window": [{"op": "row_number", "as": "rn"}], "groupby": ["m", "t"]},
{"calculate": "(datum.t==='W'?-0.267:datum.t==='L'?0:0.267)+(((datum.rn*0.6180339887)%1)-0.5)*0.1", "as": "off"}
],
"mark": {"type": "circle", "size": 20, "opacity": 1},
"encoding": {
"x": {"field": "m", "type": "nominal", "title": "model",
"scale": {"domain": ["NaiveEnsemble","BlockRNN","Transformer","NBEATS","TCN","RNN","TFT","NLinear","DLinear","AutoTheta"], "paddingInner": 0, "paddingOuter": 0},
"axis": {"labelOffset": {"condition": [
{"test": "datum.value==='NaiveEnsemble'", "value": 48},
{"test": "datum.value==='BlockRNN'", "value": 27.5},
{"test": "datum.value==='Transformer'", "value": 36},
{"test": "datum.value==='NBEATS'", "value": 21.5},
{"test": "datum.value==='TCN'", "value": 8.5},
{"test": "datum.value==='RNN'", "value": 9.5},
{"test": "datum.value==='TFT'", "value": 6.7},
{"test": "datum.value==='NLinear'", "value": 20.5},
{"test": "datum.value==='DLinear'", "value": 20.5}
], "value": 29.5}}},
"xOffset": {"field": "off", "type": "quantitative", "scale": {"domain": [-0.5, 0.5]}},
"y": {"field": "v", "type": "quantitative", "title": "|RMSE-SS - 1|",
"scale": {"type": "log", "base": 2, "domain": [0.000417, 166.6], "nice": false},
"axis": {"values": [64, 8, 1, 0.125, 0.015625, 0.001953125],
"labelExpr": "'2' + ['⁻⁹','⁻⁶','⁻³','⁰','³','⁶'][(round(log(datum.value)/LN2)+9)/3]"}},
"color": {"field": "t", "type": "nominal",
"scale": {"domain": ["W", "L", "R"], "range": ["#1f77b4", "#cd5c5c", "#dda0dd"]},
"legend": {"labelExpr": "datum.label==='W'?'Wadeable Stream':datum.label==='L'?'Lake':'Non-wadeable River'"}}
}
},
{
"data": {"values": [{"ref": 1}]},
"mark": {"type": "rule", "strokeDash": [3, 2], "color": "#555", "strokeWidth": 1},
"encoding": {"y": {"field": "ref", "type": "quantitative", "title": "|RMSE-SS - 1|"}}
}
]
}
],
"spacing": 99,
"bounds": "flush",
"resolve": {"scale": {"x": "independent", "y": "independent", "color": "shared"}},
"config": {
"font": "DejaVu Sans",
"view": {"stroke": null},
"axis": {"grid": false, "domainColor": "#777", "domainWidth": 1.25, "labelColor": "#333", "titleColor": "#333", "titleFontWeight": "bold", "tickColor": "#777"},
"axisX": {"ticks": false, "labelAngle": -30, "labelAlign": "right", "labelBaseline": "top", "labelFontSize": 15.5, "labelPadding": 8, "labelOverlap": false, "labelBound": false, "titleFontSize": 20, "titlePadding": 2},
"axisY": {"labelFontSize": 18, "tickSize": 3, "labelPadding": 2, "titleFontSize": 24, "titlePadding": 6},
"legend": {"orient": "none", "legendX": 248, "legendY": -65.5, "direction": "horizontal", "title": null, "symbolType": "circle", "symbolSize": 230, "symbolStrokeWidth": 0, "labelFontSize": 19, "labelOffset": 9, "columnPadding": 39, "labelColor": "black", "labelLimit": 400}
}
}
